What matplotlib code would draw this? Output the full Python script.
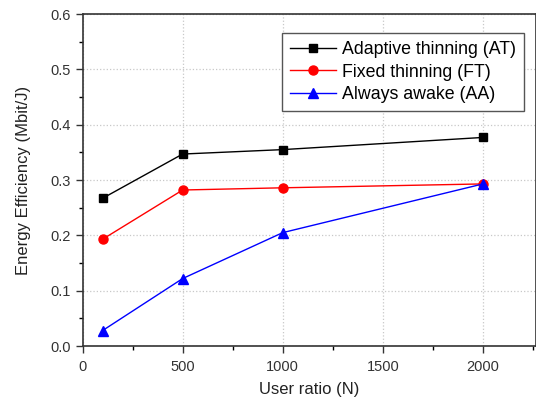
import matplotlib
matplotlib.use("Agg")
import matplotlib.pyplot as plt
from matplotlib.ticker import MultipleLocator

plt.rcParams['font.family'] = ['Liberation Sans', 'DejaVu Sans']

x = [100, 500, 1000, 2000]
at = [0.267, 0.347, 0.355, 0.377]
ft = [0.193, 0.282, 0.286, 0.293]
aa = [0.028, 0.122, 0.205, 0.293]
labels = ["Adaptive thinning (AT)", "Fixed thinning (FT)", "Always awake (AA)"]

fig = plt.figure(figsize=(5.36, 4.01), dpi=100)
ax = fig.add_axes([0.154, 0.137, 0.846, 0.828])

ax.plot(x, at, color='black', marker='s', markersize=6, lw=1, label=labels[0])
ax.plot(x, ft, color='red', marker='o', markersize=6.5, lw=1, label=labels[1])
ax.plot(x, aa, color='blue', marker='^', markersize=7, lw=1, label=labels[2])

ax.set_xlim(0, 2265)
ax.set_ylim(0, 0.6)
ax.set_xticks([0, 500, 1000, 1500, 2000])
ax.set_yticks([0.0, 0.1, 0.2, 0.3, 0.4, 0.5, 0.6])
ax.set_yticklabels(['0.0', '0.1', '0.2', '0.3', '0.4', '0.5', '0.6'])
ax.xaxis.set_minor_locator(MultipleLocator(250))
ax.yaxis.set_minor_locator(MultipleLocator(0.05))
ax.tick_params(which='major', direction='out', length=5, width=1, labelsize=10.5, colors='#333333')
ax.tick_params(axis='x', which='major', pad=5)
ax.tick_params(which='minor', direction='out', length=3, width=1)
ax.grid(True, which='major', linestyle=':', color='#c8c8c8', lw=0.9)
for s in ['left', 'bottom', 'top', 'right']:
    ax.spines[s].set_color('#333333')
    ax.spines[s].set_linewidth(1.2)

ax.set_xlabel("User ratio (N)", fontsize=12, color='#222222', labelpad=6)
ax.set_ylabel("Energy Efficiency (Mbit/J)", fontsize=12, color='#222222', labelpad=14)

leg = ax.legend(loc='upper right', bbox_to_anchor=(0.973, 0.943), fontsize=12.8,
                fancybox=False, framealpha=1, edgecolor='#555555', handlelength=2.6,
                borderpad=0.45, labelspacing=0.32, handletextpad=0.3, borderaxespad=0)
leg.get_frame().set_linewidth(1)

fig.savefig("out.png", dpi=100)
